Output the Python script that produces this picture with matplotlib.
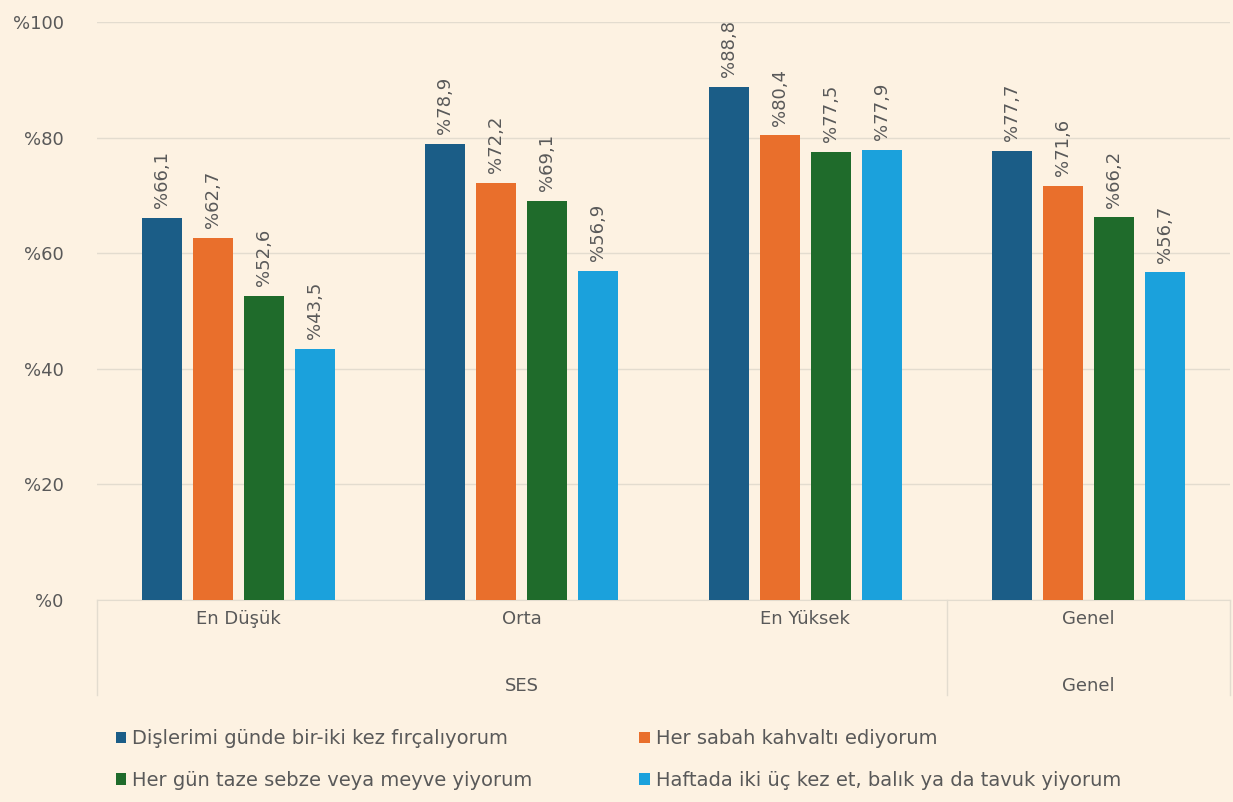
import matplotlib.pyplot as plt
import numpy as np

# data
groups = ["En Düşük", "Orta", "En Yüksek", "Genel"]
series_names = [
    "Dişlerimi günde bir-iki kez fırçalıyorum",
    "Her sabah kahvaltı ediyorum",
    "Her gün taze sebze veya meyve yiyorum",
    "Haftada iki üç kez et, balık ya da tavuk yiyorum",
]
brush = [66.1, 78.9, 88.8, 77.7]
breakfast = [62.7, 72.2, 80.4, 71.6]
veg = [52.6, 69.1, 77.5, 66.2]
meat = [43.5, 56.9, 77.9, 56.7]
yticks = [0, 20, 40, 60, 80, 100]

colors = ["#1b5d87", "#e96f2c", "#1f6b2b", "#1ba1dc"]
bg = "#fdf2e2"
txt = "#595959"

plt.rcParams['font.family'] = ['DejaVu Sans']
fig = plt.figure(figsize=(12.33, 8.02), dpi=100, facecolor=bg)
ax = fig.add_axes([97/1233, 1-600/802, 1133/1233, 578/802])
ax.set_facecolor(bg)

x = np.arange(len(groups))
w = 0.141
pitch = 0.18
all_series = [brush, breakfast, veg, meat]
for i, vals in enumerate(all_series):
    pos = x + (i - 1.5) * pitch
    bars = ax.bar(pos, vals, width=w, color=colors[i], label=series_names[i], zorder=3)
    for b, v in zip(bars, vals):
        ax.annotate("%" + f"{v:.1f}".replace(".", ","),
                    (b.get_x() + b.get_width()/2, v),
                    xytext=(0, 7), textcoords="offset points",
                    rotation=90, ha="center", va="bottom",
                    fontsize=13, color=txt)

ax.set_xlim(-0.5, 3.5)
ax.set_ylim(0, 100)
ax.set_yticks(yticks)
ax.set_yticklabels(["%" + str(t) for t in yticks], fontsize=13, color=txt)
ax.tick_params(axis="y", length=0, pad=24)
ax.grid(axis="y", color="#e3dccf", linewidth=1, zorder=0)
for s in ["top", "right", "left"]:
    ax.spines[s].set_visible(False)
ax.spines["bottom"].set_color("#e3dccf")
ax.set_xticks(x)
ax.set_xticklabels(groups, fontsize=13, color=txt)
ax.tick_params(axis="x", length=0, pad=7)

# category table lines below axis
depth = -95/578
for xv in [-0.5, 2.5, 3.5]:
    ax.plot([xv, xv], [0, depth], transform=ax.get_xaxis_transform(),
            color="#e3dccf", linewidth=1, clip_on=False)
ax.text(1.0, -86/578, "SES", transform=ax.get_xaxis_transform(),
        ha="center", va="center", fontsize=13, color=txt)
ax.text(3.0, -86/578, "Genel", transform=ax.get_xaxis_transform(),
        ha="center", va="center", fontsize=13, color=txt)

handles, labels = ax.get_legend_handles_labels()
order = [0, 2, 1, 3]
leg = fig.legend([handles[k] for k in order], [labels[k] for k in order],
                 ncol=2, loc="upper left",
                 bbox_to_anchor=(98/1233, 1-712/802), frameon=False,
                 fontsize=14, handlelength=0.55, handleheight=0.55,
                 handletextpad=0.3, columnspacing=5.5, labelspacing=1.15)
for t in leg.get_texts():
    t.set_color(txt)

fig.savefig("out.png", dpi=100, facecolor=bg)
